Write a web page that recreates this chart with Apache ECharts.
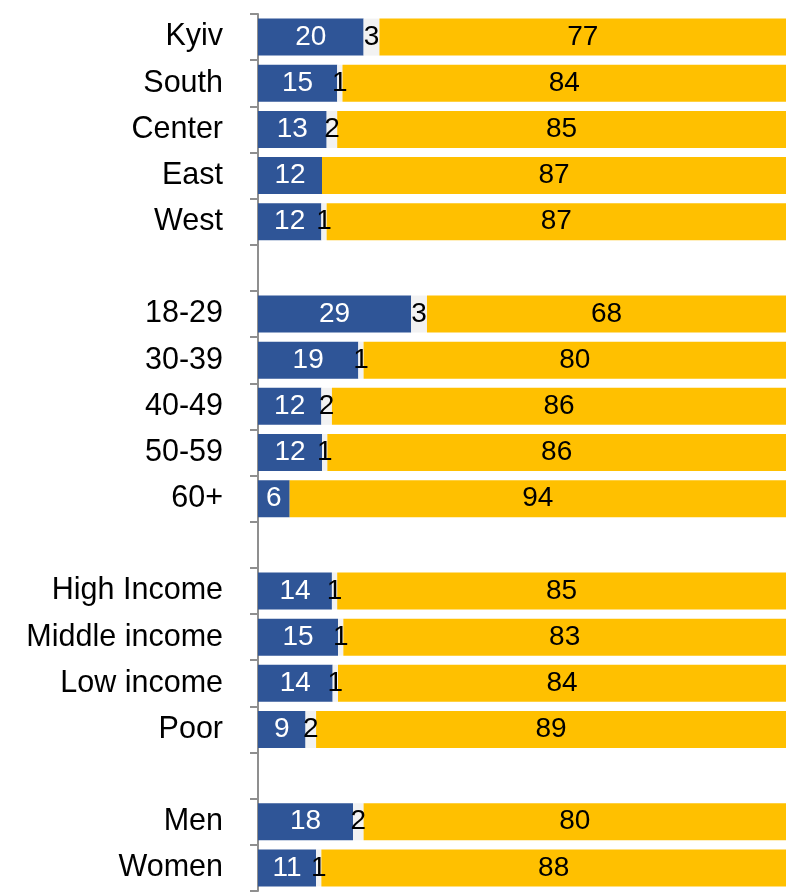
<!DOCTYPE html>
<html><head><meta charset="utf-8">
<script src="https://cdn.jsdelivr.net/npm/echarts@6/dist/echarts.min.js"></script>
<style>html,body{margin:0;padding:0;background:#fff}#c{width:795px;height:894px}</style>
</head><body><div id="c"></div>
<script>
const categories = ['Kyiv','South','Center','East','West','',
  '18-29','30-39','40-49','50-59','60+','',
  'High Income','Middle income','Low income','Poor','',
  'Men','Women'];
const blueVals = [20,15,13,12,12,null,29,19,12,12,6,null,14,15,14,9,null,18,11];
const grayVals = [3,1,2,0,1,null,3,1,2,1,0,null,1,1,1,2,null,2,1];
const goldVals = [77,84,85,87,87,null,68,80,86,86,94,null,85,83,84,89,null,80,88];

const FONT = '"Liberation Sans Narrow", "Arial Narrow", "Liberation Sans", Arial, sans-serif';
function norm(arr){
  return arr.map((v,i)=>{
    if(v===null) return {value:null};
    const s=(blueVals[i]||0)+(grayVals[i]||0)+(goldVals[i]||0);
    return {value: v/s*100, raw: v};
  });
}
function fmt(p){ return (p.data && p.data.raw) ? String(p.data.raw) : ''; }
const chart = echarts.init(document.getElementById('c'), null, {renderer:'canvas'});
const lbl = (color)=>({show:true, position:'inside', color:color, fontFamily:FONT, fontSize:28, formatter:fmt});
chart.setOption({
  animation:false,
  grid:{left:258, right:9, top:14, bottom:3, containLabel:false},
  xAxis:{type:'value', min:0, max:100, show:false},
  yAxis:{type:'category', data:categories, inverse:true,
    axisLine:{show:true, lineStyle:{color:'#8f8f8f', width:2}},
    axisTick:{show:true, length:8, lineStyle:{color:'#8f8f8f', width:2}},
    axisLabel:{color:'#000', fontFamily:FONT, fontSize:30.5, margin:35}},
  series:[
    {type:'bar', stack:'a', barWidth:37, data:norm(blueVals), itemStyle:{color:'#2F5597'}, label:lbl('#fff')},
    {type:'bar', stack:'a', barWidth:37, data:norm(grayVals), itemStyle:{color:'#F2F2F2'}, label:lbl('#000')},
    {type:'bar', stack:'a', barWidth:37, data:norm(goldVals), itemStyle:{color:'#FFC000'}, label:lbl('#000')}
  ]
});
</script></body></html>
